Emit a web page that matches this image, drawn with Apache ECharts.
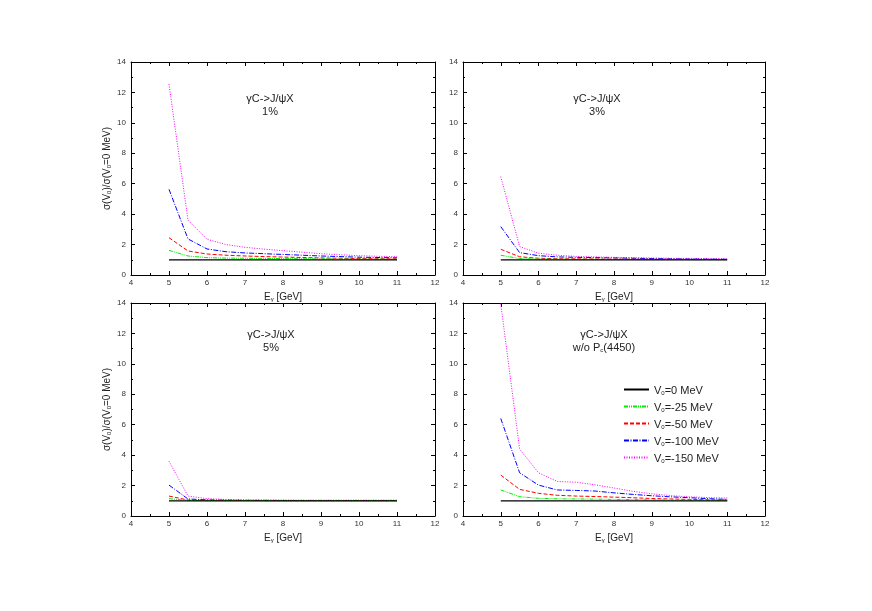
<!DOCTYPE html>
<html><head><meta charset="utf-8">
<script src="https://cdn.jsdelivr.net/npm/echarts@6/dist/echarts.min.js"></script>
<style>html,body{margin:0;padding:0;background:#fff}#c{width:872px;height:611px}</style>
</head><body><div id="c"></div>
<script>
const xVals = [5,5.5,6,6.5,7,7.5,8,8.5,9,9.5,10,10.5,11];
const seriesNames = ['V0=0 MeV','V0=-25 MeV','V0=-50 MeV','V0=-100 MeV','V0=-150 MeV'];
const panelTitles = ['1%','3%','5%','w/o Pc(4450)'];
// panel 1: 1%
const p1_v0   = [1,1,1,1,1,1,1,1,1,1,1,1,1];
const p1_v25  = [1.62,1.25,1.14,1.11,1.10,1.09,1.08,1.07,1.06,1.05,1.04,1.04,1.03];
const p1_v50  = [2.45,1.58,1.38,1.30,1.25,1.21,1.18,1.15,1.12,1.10,1.08,1.07,1.06];
const p1_v100 = [5.63,2.37,1.71,1.53,1.45,1.40,1.35,1.30,1.25,1.21,1.17,1.15,1.13];
const p1_v150 = [12.55,3.6,2.35,2.0,1.82,1.70,1.60,1.50,1.40,1.33,1.27,1.23,1.20];
// panel 2: 3%
const p2_v0   = [1,1,1,1,1,1,1,1,1,1,1,1,1];
const p2_v25  = [1.30,1.08,1.05,1.04,1.03,1.03,1.02,1.02,1.02,1.02,1.01,1.01,1.01];
const p2_v50  = [1.69,1.20,1.10,1.07,1.06,1.05,1.04,1.04,1.03,1.03,1.02,1.02,1.02];
const p2_v100 = [3.18,1.47,1.27,1.19,1.16,1.14,1.12,1.10,1.08,1.06,1.05,1.04,1.03];
const p2_v150 = [6.47,1.87,1.43,1.30,1.22,1.19,1.16,1.14,1.12,1.10,1.09,1.08,1.07];
// panel 3: 5%
const p3_v0   = [1,1,1,1,1,1,1,1,1,1,1,1,1];
const p3_v25  = [1.14,1.02,1.01,1.01,1.01,1.01,1.0,1.0,1.0,1.0,1.0,1.0,1.0];
const p3_v50  = [1.31,1.05,1.03,1.02,1.02,1.01,1.01,1.01,1.01,1.01,1.01,1.01,1.01];
const p3_v100 = [2.03,1.12,1.06,1.04,1.03,1.03,1.02,1.02,1.02,1.02,1.02,1.02,1.02];
const p3_v150 = [3.6,1.31,1.14,1.09,1.06,1.05,1.05,1.04,1.04,1.04,1.04,1.04,1.04];
// panel 4: w/o Pc(4450)
const p4_v0   = [1,1,1,1,1,1,1,1,1,1,1,1,1];
const p4_v25  = [1.71,1.27,1.16,1.13,1.12,1.11,1.09,1.08,1.06,1.05,1.04,1.04,1.03];
const p4_v50  = [2.69,1.75,1.49,1.36,1.31,1.28,1.24,1.20,1.15,1.12,1.09,1.07,1.05];
const p4_v100 = [6.41,2.84,2.03,1.71,1.68,1.64,1.52,1.42,1.33,1.26,1.20,1.14,1.09];
const p4_v150 = [13.95,4.4,2.84,2.27,2.22,2.05,1.84,1.62,1.46,1.34,1.26,1.21,1.18];

const panels = [
  [p1_v0,p1_v25,p1_v50,p1_v100,p1_v150],
  [p2_v0,p2_v25,p2_v50,p2_v100,p2_v150],
  [p3_v0,p3_v25,p3_v50,p3_v100,p3_v150],
  [p4_v0,p4_v25,p4_v50,p4_v100,p4_v150]
];
const colors = ['#000000','#00ee00','#ff0000','#0000ff','#ff00ff'];
const dashes = ['solid',[4,1,1,1,1,1],[4,2],[5,1.5,1,1.5],[1,1.5]];
const grids = [
  {left:131, top:62, width:304, height:213},
  {left:463, top:62, width:302, height:213},
  {left:131, top:303, width:304, height:213},
  {left:463, top:303, width:302, height:213}
];
const FONT = '"Liberation Sans", Arial, sans-serif';
const axisCommon = {
  axisLine:{show:true, onZero:false, lineStyle:{color:'#000', width:1}},
  axisTick:{show:true, inside:true, length:4, lineStyle:{color:'#000'}},
  minorTick:{show:true, splitNumber:2, length:2, lineStyle:{color:'#000'}},
  splitLine:{show:false}
};
const subRich = {
  n:{fontSize:10, color:'#222', fontFamily:FONT, fontWeight:'normal', verticalAlign:'bottom', lineHeight:12},
  s:{fontSize:6, color:'#222', fontFamily:FONT, fontWeight:'normal', verticalAlign:'bottom', lineHeight:8}
};
const xAxes = [], yAxes = [];
for (let k=0;k<2;k++){
  for (let i=0;i<4;i++){
    xAxes.push(Object.assign({}, axisCommon, {
      type:'value', gridIndex:i, min:4, max:12, interval:1,
      position: k===0?'bottom':'top',
      axisLabel:{show:k===0, fontSize:8, color:'#333', margin:4, fontFamily:FONT},
      name: k===0 ? '{n|E}{s|γ}{n| [GeV]}' : '',
      nameLocation:'middle', nameGap:15,
      nameTextStyle:{fontFamily:FONT, rich:subRich}
    }));
    yAxes.push(Object.assign({}, axisCommon, {
      type:'value', gridIndex:i, min:0, max:14, interval:2,
      position: k===0?'left':'right',
      axisLabel:{show:k===0, fontSize:8, color:'#333', margin:5, fontFamily:FONT},
      name: (k===0 && (i===0||i===2)) ? '{n|σ(V}{s|0}{n|)/σ(V}{s|0}{n|=0 MeV)}' : '',
      nameLocation:'middle', nameGap:19,
      nameTextStyle:{fontFamily:FONT, rich:subRich}
    }));
  }
}
const series = [];
panels.forEach((arrs,pi)=>{
  arrs.forEach((arr,si)=>{
    series.push({
      type:'line', name:seriesNames[si], xAxisIndex:pi, yAxisIndex:pi,
      data: xVals.map((x,j)=>[x,arr[j]]), symbol:'none', clip:true,
      lineStyle:{color:colors[si], width: si===0?1.2:1, type:dashes[si]},
      itemStyle:{color:colors[si]},
      z: 10-si, animation:false
    });
  });
});
const titleRich = {
  n:{fontSize:11, color:'#222', fontFamily:FONT, fontWeight:'normal', verticalAlign:'bottom', lineHeight:13},
  s:{fontSize:6, color:'#222', fontFamily:FONT, fontWeight:'normal', verticalAlign:'bottom', lineHeight:9}
};
const titlePos = [[270,91],[597,91],[271,327],[604,327]];
const titles = titlePos.map((p,i)=>({
  left:p[0], top:p[1], textAlign:'center', padding:0, itemGap:2,
  text:'{n|γC->J/ψX}', textStyle:{fontWeight:'normal', rich:titleRich},
  subtext: i===3 ? '{n|w/o P}{s|c}{n|(4450)}' : '{n|'+panelTitles[i]+'}',
  subtextStyle:{rich:titleRich}
}));
const chart = echarts.init(document.getElementById('c'), null, {renderer:'canvas'});
chart.setOption({
  backgroundColor:'#fff',
  animation:false,
  title: titles,
  grid: grids,
  xAxis: xAxes,
  yAxis: yAxes,
  legend:{
    data: seriesNames, orient:'vertical', left:623, top:385,
    itemWidth:25, itemHeight:8, itemGap:6, padding:0,
    selectedMode:false,
    itemStyle:{opacity:0},
    formatter: function(n){ const m=n.match(/^V0(.*)$/); return '{n|V}{s|0}{n|'+m[1]+'}'; },
    textStyle:{rich:titleRich}
  },
  series: series
});
</script></body></html>
